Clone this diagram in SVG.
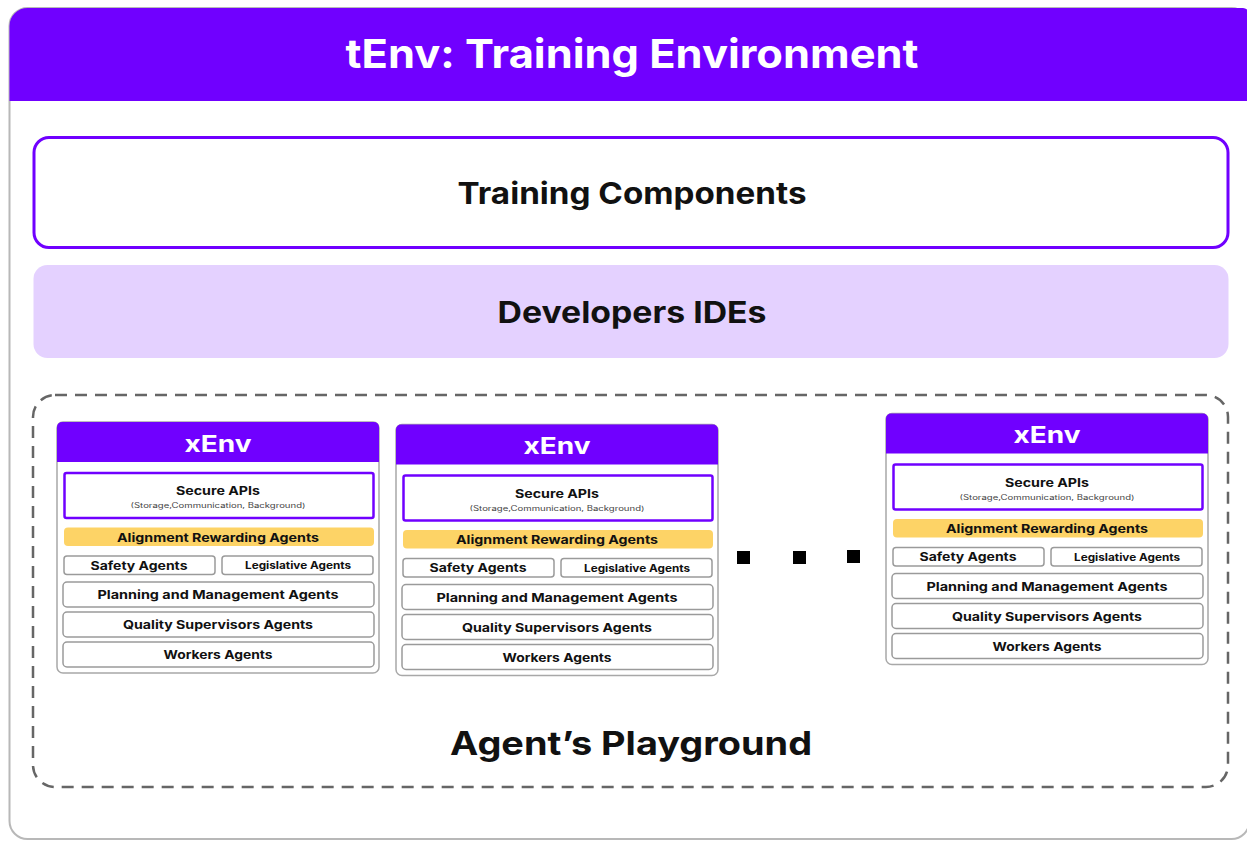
<svg xmlns="http://www.w3.org/2000/svg" width="1247" height="841" viewBox="0 0 1247 841">
<style>
text{font-family:Inter,"Open Sans","Liberation Sans",sans-serif;font-weight:700;text-anchor:middle}
.w{fill:#fff}
.k{fill:#111}
.cell{fill:#fff;stroke:#9a9a9a;stroke-width:1.5}
.sec{fill:#fff;stroke:#7000ff;stroke-width:2.5}
.al{fill:#fdd366}
.frame{fill:#fff;stroke:#a8a8a8;stroke-width:1.5}
.hdr{fill:#7000ff}
.s11{font-size:12px}
.s10{font-size:10px}
.sub{font-size:7px;font-weight:400;fill:#444}
</style>
<rect width="1247" height="841" fill="#fff"/>
<g id="tenv">
<rect x="9.5" y="8" width="1240" height="831" rx="18" fill="#fff" stroke="#b8b8b8" stroke-width="2"/>
<path d="M9.5 101 V26 a18 18 0 0 1 18 -18 H1243 a6 6 0 0 1 6 6 V101 Z" class="hdr"/>
<text x="632" y="68" class="w" font-size="40" textLength="573" lengthAdjust="spacingAndGlyphs">tEnv: Training Environment</text>
</g>
<g id="training-components">
<rect x="34" y="137.5" width="1194" height="110" rx="15" fill="#fff" stroke="#7000ff" stroke-width="3"/>
<text x="632" y="204" class="k" font-size="30" textLength="349" lengthAdjust="spacingAndGlyphs">Training Components</text>
</g>
<g id="developers-ides">
<rect x="33.5" y="265" width="1195" height="93" rx="14" fill="#e4d1ff"/>
<text x="632" y="323" class="k" font-size="30" textLength="269" lengthAdjust="spacingAndGlyphs">Developers IDEs</text>
</g>
<g id="agents-playground">
<rect x="33" y="395" width="1195" height="392" rx="22" fill="none" stroke="#666" stroke-width="2.5" stroke-dasharray="12 8"/>
<text x="631" y="755" class="k" font-size="33" textLength="362" lengthAdjust="spacingAndGlyphs">Agent’s Playground</text>
</g>
<g id="xenv-1" transform="translate(57,422)">
<rect x="0" y="0" width="322" height="251" rx="6" class="frame"/>
<path d="M0 40 V5 a5 5 0 0 1 5 -5 H317 a5 5 0 0 1 5 5 V40 Z" class="hdr"/>
<text x="161" y="29.5" class="w" font-size="23" textLength="67" lengthAdjust="spacingAndGlyphs">xEnv</text>
<rect x="7.5" y="51" width="309" height="45" rx="2" class="sec"/>
<text x="161" y="73" class="k s11" textLength="84" lengthAdjust="spacingAndGlyphs">Secure APIs</text>
<text x="161" y="86" class="sub" textLength="175" lengthAdjust="spacingAndGlyphs">(Storage,Communication, Background)</text>
<rect x="7" y="105.5" width="310" height="18.5" rx="4" class="al"/>
<text x="161" y="119.5" class="k s11" textLength="202" lengthAdjust="spacingAndGlyphs">Alignment Rewarding Agents</text>
<rect x="7" y="134" width="151" height="18.5" rx="3" class="cell"/>
<text x="82" y="147.5" class="k s11" textLength="97" lengthAdjust="spacingAndGlyphs">Safety Agents</text>
<rect x="165" y="134" width="151" height="18.5" rx="3" class="cell"/>
<text x="241" y="147" class="k s10" textLength="106" lengthAdjust="spacingAndGlyphs">Legislative Agents</text>
<rect x="6" y="160" width="311" height="25" rx="4" class="cell"/>
<text x="161" y="177" class="k s11" textLength="241" lengthAdjust="spacingAndGlyphs">Planning and Management Agents</text>
<rect x="6" y="190" width="311" height="25" rx="4" class="cell"/>
<text x="161" y="207" class="k s11" textLength="190" lengthAdjust="spacingAndGlyphs">Quality Supervisors Agents</text>
<rect x="6" y="220" width="311" height="25" rx="4" class="cell"/>
<text x="161" y="237" class="k s11" textLength="109" lengthAdjust="spacingAndGlyphs">Workers Agents</text>
</g>
<g id="xenv-2" transform="translate(396,424.5)">
<rect x="0" y="0" width="322" height="251" rx="6" class="frame"/>
<path d="M0 40 V5 a5 5 0 0 1 5 -5 H317 a5 5 0 0 1 5 5 V40 Z" class="hdr"/>
<text x="161" y="29.5" class="w" font-size="23" textLength="67" lengthAdjust="spacingAndGlyphs">xEnv</text>
<rect x="7.5" y="51" width="309" height="45" rx="2" class="sec"/>
<text x="161" y="73" class="k s11" textLength="84" lengthAdjust="spacingAndGlyphs">Secure APIs</text>
<text x="161" y="86" class="sub" textLength="175" lengthAdjust="spacingAndGlyphs">(Storage,Communication, Background)</text>
<rect x="7" y="105.5" width="310" height="18.5" rx="4" class="al"/>
<text x="161" y="119.5" class="k s11" textLength="202" lengthAdjust="spacingAndGlyphs">Alignment Rewarding Agents</text>
<rect x="7" y="134" width="151" height="18.5" rx="3" class="cell"/>
<text x="82" y="147.5" class="k s11" textLength="97" lengthAdjust="spacingAndGlyphs">Safety Agents</text>
<rect x="165" y="134" width="151" height="18.5" rx="3" class="cell"/>
<text x="241" y="147" class="k s10" textLength="106" lengthAdjust="spacingAndGlyphs">Legislative Agents</text>
<rect x="6" y="160" width="311" height="25" rx="4" class="cell"/>
<text x="161" y="177" class="k s11" textLength="241" lengthAdjust="spacingAndGlyphs">Planning and Management Agents</text>
<rect x="6" y="190" width="311" height="25" rx="4" class="cell"/>
<text x="161" y="207" class="k s11" textLength="190" lengthAdjust="spacingAndGlyphs">Quality Supervisors Agents</text>
<rect x="6" y="220" width="311" height="25" rx="4" class="cell"/>
<text x="161" y="237" class="k s11" textLength="109" lengthAdjust="spacingAndGlyphs">Workers Agents</text>
</g>
<g id="xenv-3" transform="translate(886,413.5)">
<rect x="0" y="0" width="322" height="251" rx="6" class="frame"/>
<path d="M0 40 V5 a5 5 0 0 1 5 -5 H317 a5 5 0 0 1 5 5 V40 Z" class="hdr"/>
<text x="161" y="29.5" class="w" font-size="23" textLength="67" lengthAdjust="spacingAndGlyphs">xEnv</text>
<rect x="7.5" y="51" width="309" height="45" rx="2" class="sec"/>
<text x="161" y="73" class="k s11" textLength="84" lengthAdjust="spacingAndGlyphs">Secure APIs</text>
<text x="161" y="86" class="sub" textLength="175" lengthAdjust="spacingAndGlyphs">(Storage,Communication, Background)</text>
<rect x="7" y="105.5" width="310" height="18.5" rx="4" class="al"/>
<text x="161" y="119.5" class="k s11" textLength="202" lengthAdjust="spacingAndGlyphs">Alignment Rewarding Agents</text>
<rect x="7" y="134" width="151" height="18.5" rx="3" class="cell"/>
<text x="82" y="147.5" class="k s11" textLength="97" lengthAdjust="spacingAndGlyphs">Safety Agents</text>
<rect x="165" y="134" width="151" height="18.5" rx="3" class="cell"/>
<text x="241" y="147" class="k s10" textLength="106" lengthAdjust="spacingAndGlyphs">Legislative Agents</text>
<rect x="6" y="160" width="311" height="25" rx="4" class="cell"/>
<text x="161" y="177" class="k s11" textLength="241" lengthAdjust="spacingAndGlyphs">Planning and Management Agents</text>
<rect x="6" y="190" width="311" height="25" rx="4" class="cell"/>
<text x="161" y="207" class="k s11" textLength="190" lengthAdjust="spacingAndGlyphs">Quality Supervisors Agents</text>
<rect x="6" y="220" width="311" height="25" rx="4" class="cell"/>
<text x="161" y="237" class="k s11" textLength="109" lengthAdjust="spacingAndGlyphs">Workers Agents</text>
</g>
<g id="ellipsis" fill="#000">
<rect x="737" y="551" width="13" height="13"/>
<rect x="793" y="551" width="13" height="13"/>
<rect x="847" y="550" width="13" height="13"/>
</g>
<g id="connectors"></g>
</svg>
